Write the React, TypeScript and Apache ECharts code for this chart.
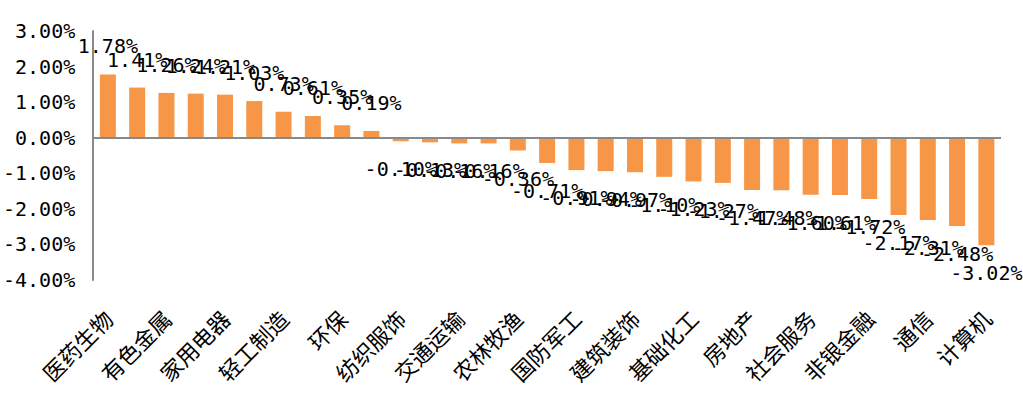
import React, { useEffect, useRef } from "react";
import * as echarts from "echarts";

const categories: string[] = [
  "医药生物", "美容护理", "有色金属", "食品饮料", "家用电器", "商贸零售", "轻工制造", "公用事业",
  "环保", "汽车", "纺织服饰", "钢铁", "交通运输", "银行", "农林牧渔", "煤炭",
  "国防军工", "建筑材料", "建筑装饰", "石油石化", "基础化工", "综合", "房地产", "机械设备",
  "社会服务", "电力设备", "非银金融", "传媒", "通信", "电子", "计算机",
];

const values: number[] = [
  1.78, 1.41, 1.26, 1.24, 1.21, 1.03, 0.73, 0.61, 0.35, 0.19,
  -0.10, -0.13, -0.16, -0.16, -0.36, -0.71, -0.91, -0.94, -0.97, -1.10,
  -1.23, -1.27, -1.47, -1.48, -1.60, -1.61, -1.72, -2.17, -2.31, -2.48, -3.02,
];

const yMin = -4;
const yMax = 3;
const yStep = 1;

const numFont = "'DejaVu Sans Mono', monospace";
const cjkFont = "'Noto Sans CJK SC', sans-serif";

export default function App() {
  const ref = useRef<HTMLDivElement>(null);
  useEffect(() => {
    if (!ref.current) return;
    const chart = echarts.init(ref.current, undefined, { renderer: "svg" });
    chart.setOption({
      animation: false,
      backgroundColor: "#ffffff",
      grid: { left: 90, right: 22, top: 31, bottom: 117, containLabel: false },
      xAxis: {
        type: "category",
        data: categories,
        axisLine: { show: false, onZero: false },
        axisTick: { show: false },
        axisLabel: {
          interval: 1,
          rotate: 45,
          margin: 34,
          fontSize: 22,
          color: "#000",
          fontFamily: cjkFont,
        },
      },
      yAxis: {
        type: "value",
        min: yMin,
        max: yMax,
        interval: yStep,
        axisLine: { show: true, lineStyle: { color: "#898989", width: 2 } },
        axisTick: { show: false },
        splitLine: { show: false },
        axisLabel: {
          margin: 18,
          fontSize: 20,
          color: "#000",
          fontFamily: numFont,
          formatter: (v: number) => v.toFixed(2) + "%",
        },
      },
      series: [
        {
          type: "bar",
          data: values.map((v) => ({
            value: v,
            label: { position: v >= 0 ? "top" : "bottom" },
          })),
          barWidth: 16,
          itemStyle: { color: "#F79646" },
          label: {
            show: true,
            distance: 18,
            fontSize: 20,
            color: "#000",
            fontFamily: numFont,
            formatter: (p: any) => Number(p.value).toFixed(2) + "%",
          },
          markLine: {
            silent: true,
            symbol: "none",
            label: { show: false },
            lineStyle: { color: "#898989", width: 2, type: "solid" },
            data: [{ yAxis: 0 }],
          },
        },
      ],
    });
    return () => chart.dispose();
  }, []);
  return (
    <div
      ref={ref}
      style={{ position: "fixed", left: 0, top: 0, width: 1023, height: 397, background: "#fff" }}
    />
  );
}
